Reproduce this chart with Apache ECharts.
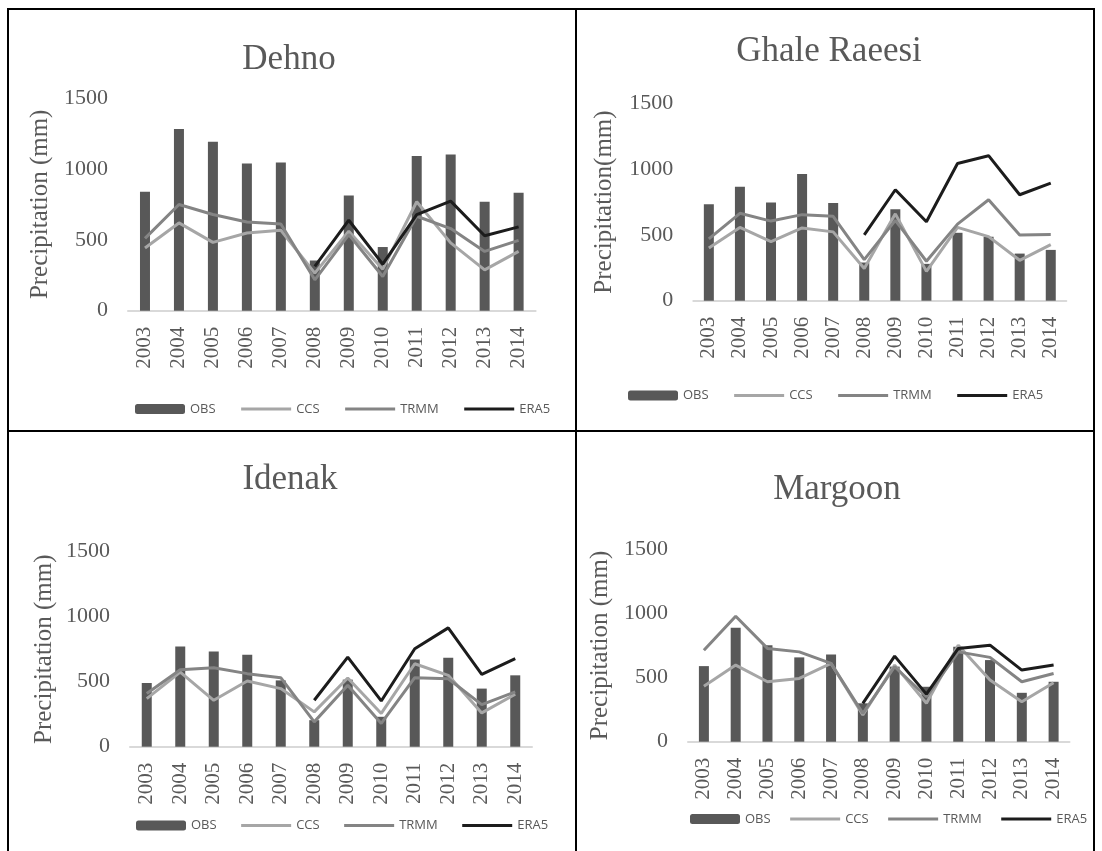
<!DOCTYPE html>
<html>
<head>
<meta charset="utf-8">
<script src="https://cdn.jsdelivr.net/npm/echarts@6/dist/echarts.min.js"></script>
<style>
  html, body { margin: 0; padding: 0; background: #fff; }
  #chart { width: 1102px; height: 851px; }
</style>
</head>
<body>
<div id="chart"></div>
<script>
// Annual precipitation (mm) at four stations, observed vs. three products
const years = ['2003', '2004', '2005', '2006', '2007', '2008', '2009', '2010', '2011', '2012', '2013', '2014'];
const stations = ['Dehno', 'Ghale Raeesi', 'Idenak', 'Margoon'];
const yAxisNames = ['Precipitation (mm)', 'Precipitation(mm)', 'Precipitation (mm)', 'Precipitation (mm)'];
const yTicks = [0, 500, 1000, 1500];
const seriesNames = ['OBS', 'CCS', 'TRMM', 'ERA5'];

const dehnoOBS  = [839, 1281, 1191, 1038, 1045, 354, 813, 449, 1091, 1101, 768, 832];
const dehnoCCS  = [442, 619, 482, 548, 567, 265, 560, 293, 768, 478, 288, 418];
const dehnoTRMM = [510, 749, 678, 626, 612, 218, 537, 241, 666, 579, 418, 496];
const dehnoERA5 = [null, null, null, null, null, 312, 638, 329, 678, 773, 529, 591];

const ghaleOBS  = [733, 866, 746, 963, 743, 290, 695, 280, 516, 486, 358, 386];
const ghaleCCS  = [400, 557, 449, 553, 523, 244, 660, 223, 557, 487, 307, 426];
const ghaleTRMM = [470, 664, 605, 654, 641, 312, 610, 300, 582, 767, 500, 503];
const ghaleERA5 = [null, null, null, null, null, 500, 843, 600, 1043, 1102, 805, 894];

const idenakOBS  = [490, 770, 732, 707, 510, 204, 516, 230, 671, 684, 447, 549];
const idenakCCS  = [370, 574, 357, 505, 447, 268, 528, 256, 638, 549, 260, 403];
const idenakTRMM = [409, 592, 608, 562, 531, 191, 472, 179, 531, 523, 324, 421];
const idenakERA5 = [null, null, null, null, null, 357, 689, 352, 753, 914, 556, 677];

const margoonOBS  = [589, 887, 752, 657, 680, 299, 585, 428, 739, 636, 381, 467];
const margoonCCS  = [433, 597, 467, 493, 610, 208, 597, 299, 752, 480, 311, 459];
const margoonTRMM = [713, 978, 727, 700, 610, 221, 584, 350, 700, 657, 467, 532];
const margoonERA5 = [null, null, null, null, null, 299, 667, 371, 727, 752, 558, 597];

const stationData = [
  [dehnoOBS, dehnoCCS, dehnoTRMM, dehnoERA5],
  [ghaleOBS, ghaleCCS, ghaleTRMM, ghaleERA5],
  [idenakOBS, idenakCCS, idenakTRMM, idenakERA5],
  [margoonOBS, margoonCCS, margoonTRMM, margoonERA5]
];

// Panel layout
const panels = [
  { grid: { left: 128, top: 98, width: 407.6, height: 212.7 }, titleX: 289, titleY: 42, nameGap: 75, legend: { left: 135, top: 402.5, gap: 24 } },
  { grid: { left: 693.3, top: 103.3, width: 373, height: 197.4 }, titleX: 829, titleY: 34, nameGap: 76, legend: { left: 628, top: 389, gap: 24 } },
  { grid: { left: 130, top: 551.7, width: 402, height: 195 }, titleX: 290, titleY: 462, nameGap: 73, legend: { left: 136, top: 819, gap: 23 } },
  { grid: { left: 688, top: 549.2, width: 381.5, height: 192.5 }, titleX: 837, titleY: 472, nameGap: 75, legend: { left: 690, top: 812.5, gap: 18 } }
];

const SERIF = 'Liberation Serif, Times New Roman, serif';
const SANS = 'Open Sans, Liberation Sans, sans-serif';
const TEXT_GRAY = '#595959';
const colors = { OBS: '#585858', CCS: '#a6a6a6', TRMM: '#848484', ERA5: '#1c1c1c' };

const grids = [], xAxes = [], yAxes = [], series = [], legends = [], graphics = [];

panels.forEach((p, i) => {
  grids.push(Object.assign({ containLabel: false, outerBoundsMode: 'none' }, p.grid));
  xAxes.push({
    type: 'category', gridIndex: i, data: years,
    axisTick: { show: false },
    axisLine: { lineStyle: { color: '#d9d9d9', width: 2 } },
    axisLabel: { rotate: 90, margin: 16, interval: 0, fontFamily: SERIF, fontSize: 21, color: TEXT_GRAY }
  });
  yAxes.push({
    type: 'value', gridIndex: i,
    min: yTicks[0], max: yTicks[yTicks.length - 1], interval: yTicks[1] - yTicks[0],
    splitLine: { show: false }, axisLine: { show: false }, axisTick: { show: false },
    axisLabel: { margin: 20, fontFamily: SERIF, fontSize: 22, color: TEXT_GRAY, formatter: v => String(v) },
    name: yAxisNames[i], nameLocation: 'middle', nameRotate: 90, nameGap: p.nameGap,
    nameTextStyle: { fontFamily: SERIF, fontSize: 25, color: TEXT_GRAY }
  });

  const d = stationData[i];
  series.push({
    name: 'OBS', type: 'bar', xAxisIndex: i, yAxisIndex: i, data: d[0],
    barWidth: 10, itemStyle: { color: colors.OBS }, silent: true
  });
  ['CCS', 'TRMM', 'ERA5'].forEach((n, k) => {
    series.push({
      name: n, type: 'line', xAxisIndex: i, yAxisIndex: i, data: d[k + 1],
      symbol: 'none', connectNulls: false,
      lineStyle: { color: colors[n], width: 3 }, itemStyle: { color: colors[n] }, silent: true
    });
  });

  // Line entries show only a plain line swatch (no marker dot)
  legends.push({
    left: p.legend.left, top: p.legend.top, padding: 0,
    itemWidth: 50, itemHeight: 10, itemGap: p.legend.gap,
    data: seriesNames.map(n => n === 'OBS' ? { name: n } : { name: n, itemStyle: { opacity: 0 } }),
    selectedMode: false,
    lineStyle: { width: 3 },
    textStyle: { fontFamily: SANS, fontSize: 13, color: TEXT_GRAY }
  });

  graphics.push({
    type: 'text', x: p.titleX, y: p.titleY,
    style: { text: stations[i], textAlign: 'center', textVerticalAlign: 'top', font: '35px ' + SERIF, fill: TEXT_GRAY }
  });
});

// Frame lines around the four panels
const frame = [
  [8, 9, 1094, 9], [8, 431, 1094, 431],
  [8, 8, 8, 851], [576, 8, 576, 851], [1094, 8, 1094, 851]
];
frame.forEach(f => graphics.push({
  type: 'line', shape: { x1: f[0], y1: f[1], x2: f[2], y2: f[3] },
  style: { stroke: '#000', lineWidth: 2 }, silent: true
}));

const chart = echarts.init(document.getElementById('chart'), null, { renderer: 'canvas' });
chart.setOption({
  animation: false,
  backgroundColor: '#fff',
  grid: grids, xAxis: xAxes, yAxis: yAxes,
  series: series, legend: legends, graphic: graphics
});
</script>
</body>
</html>
